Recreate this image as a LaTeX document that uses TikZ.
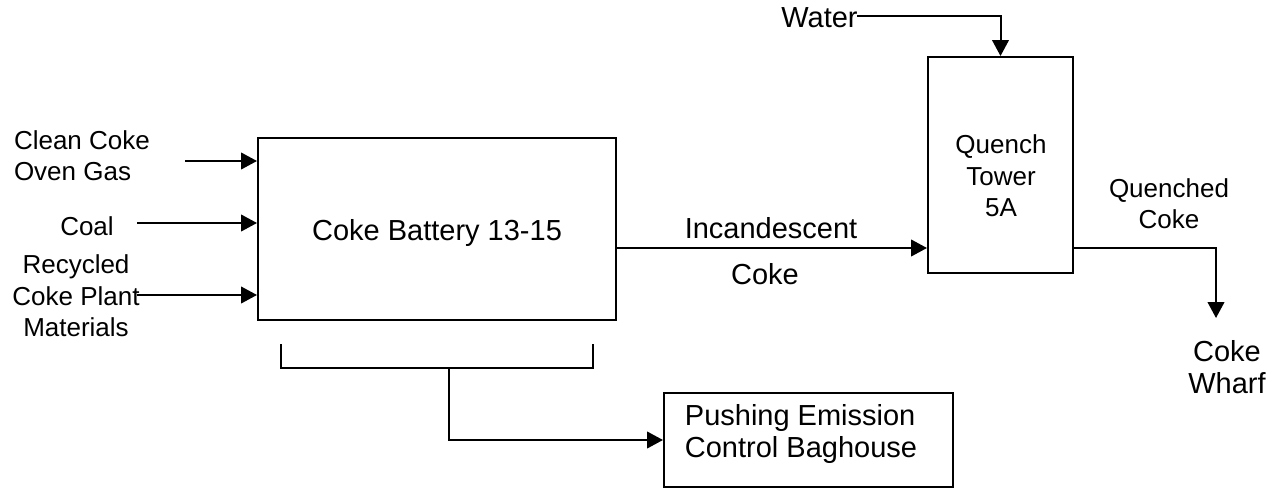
\documentclass[tikz,border=0pt]{standalone}
\usepackage{fontspec}
\setmainfont{Liberation Sans}
\usetikzlibrary{arrows.meta,calc}
\begin{document}
\begin{tikzpicture}[x=0.75pt,y=-0.75pt,
  line width=1.5pt,
  box/.style={draw,rectangle,inner sep=0pt,minimum width=#1},
  arr/.style={-{Triangle[length=12pt,width=12.5pt]}},
  small/.style={font=\fontsize{19.5}{23.5}\selectfont,inner sep=0pt},
  big/.style={font=\fontsize{21.75}{24}\selectfont,inner sep=0pt}]
\useasboundingbox (0,0) rectangle (1279,489);
% boxes
\node[box=268.5pt,minimum height=136.5pt] (bat) at (437,229) {};
\node[big] (battxt) at (437,233) {Coke Battery 13-15};
\node[box=108.75pt,minimum height=162pt] (qt) at (1000.5,165) {};
\node[small,align=center] (qttxt) at (1001,176) {Quench\\Tower\\5A};
\node[box=216.75pt,minimum height=70.5pt] (peb) at (808.5,440) {};
\node[big,align=left] (pebtxt) at (801,434) {Pushing Emission\\Control Baghouse};
% input labels
\node[small,align=left,anchor=west] (cg) at (13,156) {Clean Coke\\Oven Gas};
\node[small] (coal) at (87,226) {Coal};
\node[small,align=center] (rec) at (76,296) {Recycled\\Coke Plant\\Materials};
\node[big] (water) at (819.5,18) {Water};
\node[big] (inc) at (771,228) {Incandescent};
\node[big] (incc) at (765,274) {Coke};
\node[small,align=center] (qc) at (1169,204) {Quenched\\Coke};
\node[big,align=center] (wharf) at (1227,367) {Coke\\Wharf};
% arrow start points
\coordinate (cgS) at (185,161);
\coordinate (coalS) at (137,223);
\coordinate (recS) at (137,295);
\coordinate (wS) at (857,16);
\coordinate (qcE) at (1216,318);
% connectors
\draw[arr] (cgS) -- (cgS -| bat.west);
\draw[arr] (coalS) -- (coalS -| bat.west);
\draw[arr] (recS) -- (recS -| bat.west);
\coordinate (incS) at (616,248);
\draw[arr] (incS) -- (incS -| qt.west);
\draw[arr] (wS) -- (wS -| qt.north) -- (qt.north);
\coordinate (qcS) at (1073,248);
\draw[arr] (qcS -| qt.east) -- (qcS -| qcE) -- (qcE);
% bracket
\coordinate (brL) at (281,344);
\coordinate (brR) at (593,344);
\coordinate (brM) at (449,368);
\draw (brL) -- (brL |- brM) -- (brR |- brM) -- (brR);
\draw[arr] (brM) -- (brM |- peb.west) -- (peb.west);
\end{tikzpicture}
\end{document}
